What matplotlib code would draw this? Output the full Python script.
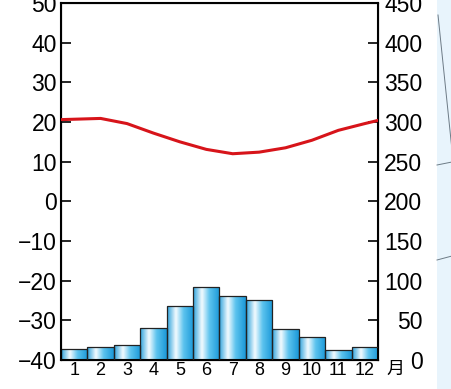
import numpy as np
import matplotlib
matplotlib.use('Agg')
import matplotlib.pyplot as plt
from matplotlib.colors import LinearSegmentedColormap
from matplotlib.patches import Rectangle

# climate data
months = [1, 2, 3, 4, 5, 6, 7, 8, 9, 10, 11, 12]
month_labels = ['1', '2', '3', '4', '5', '6', '7', '8', '9', '10', '11', '12']
precip = [14, 16, 19, 40, 68, 92, 81, 76, 39, 29, 13, 16]
temp = [20.7, 20.9, 19.6, 17.2, 15.0, 13.1, 12.0, 12.4, 13.5, 15.4, 17.9, 19.6]
# temperature where the curve meets the left / right frame
temp_edges = [20.6, 20.4]

temp_ticks = [-40, -30, -20, -10, 0, 10, 20, 30, 40, 50]
precip_ticks = [0, 50, 100, 150, 200, 250, 300, 350, 400, 450]

plt.rcParams['font.family'] = ['Liberation Sans', 'Noto Sans CJK JP', 'DejaVu Sans']

fig = plt.figure(figsize=(4.52, 3.89), dpi=100)
fig.patch.set_facecolor('white')

# light blue panel of the neighbouring figure on the right
fig.patches.append(Rectangle((437 / 452, 0), 1, 1, transform=fig.transFigure,
                             facecolor='#e8f4fc', edgecolor='none', zorder=0))
fig.lines.append(plt.Line2D([438 / 452, 452 / 452], [1 - 15 / 389, 1 - 150 / 389],
                            transform=fig.transFigure, color='#6d7b86', lw=0.7))
fig.lines.append(plt.Line2D([437 / 452, 452 / 452], [1 - 165 / 389, 1 - 162 / 389],
                            transform=fig.transFigure, color='#6d7b86', lw=0.7))
fig.lines.append(plt.Line2D([437 / 452, 452 / 452], [1 - 260 / 389, 1 - 256 / 389],
                            transform=fig.transFigure, color='#6d7b86', lw=0.7))

ax = fig.add_axes([61 / 452, 1 - 360 / 389, 317 / 452, 357 / 389])
tax = ax.twinx()

# precipitation bars with a shiny blue gradient
cmap = LinearSegmentedColormap.from_list('shine', [
    (0.0, '#2ea3dc'), (0.33, '#f4fbff'), (0.62, '#5cc3ee'), (1.0, '#1b98d8')])
grad = np.linspace(0, 1, 64).reshape(1, -1)
bars = ax.bar(months, precip, width=1.0, color='none', edgecolor='#222222',
              linewidth=0.9, zorder=3)
for b in bars:
    x0, w, h = b.get_x(), b.get_width(), b.get_height()
    im = ax.imshow(grad, extent=[x0, x0 + w, 0, h], aspect='auto', cmap=cmap,
                   origin='lower', zorder=2, interpolation='bicubic')
    im.set_clip_path(b)
ax.set_xlim(0.5, 12.5)
ax.set_ylim(0, 450)
ax.set_aspect('auto')

ax.yaxis.tick_right()
ax.set_yticks(precip_ticks)
ax.tick_params(axis='y', direction='in', length=7, width=1.2, labelsize=16.5,
               pad=32)
for lab in ax.get_yticklabels():
    lab.set_horizontalalignment('right')
ax.set_xticks(months)
ax.set_xticklabels(month_labels)
ax.tick_params(axis='x', length=0, labelsize=13, pad=1.5)
for s in ax.spines.values():
    s.set_linewidth(1.5)

# temperature curve on the left axis
tax.yaxis.tick_left()
tax.set_ylim(-40, 50)
tax.set_yticks(temp_ticks)
tax.tick_params(axis='y', direction='in', length=7, width=1.2, labelsize=16.5,
                pad=3)
tx = [0.5] + months + [12.5]
ty = [temp_edges[0]] + temp + [temp_edges[1]]
tax.plot(tx, ty, color='#d7141a', lw=2.2, solid_joinstyle='round', zorder=5)
tax.set_xlim(0.5, 12.5)

ax.text(395 / 452, 1 - 369 / 389, '月', transform=fig.transFigure, fontsize=13,
        ha='center', va='center', family=['Noto Sans CJK JP', 'DejaVu Sans'])

fig.savefig('out.png', dpi=100)
